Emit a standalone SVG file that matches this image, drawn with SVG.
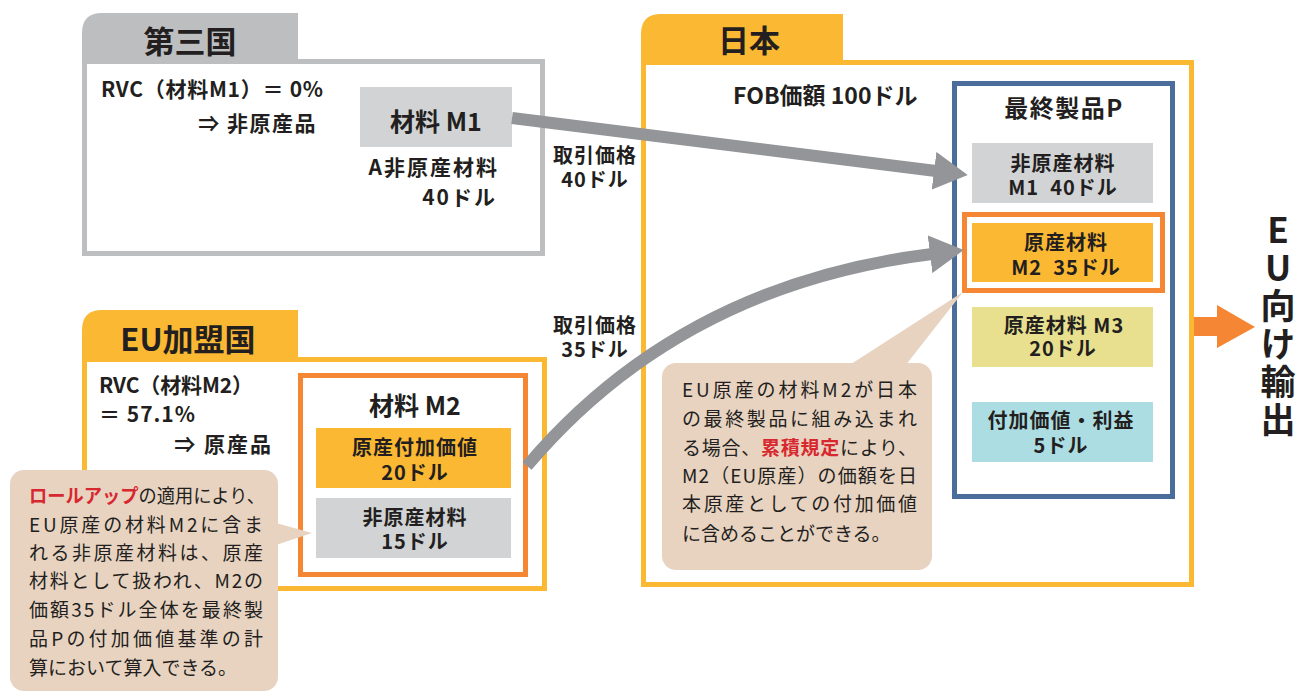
<svg xmlns="http://www.w3.org/2000/svg" width="1300" height="694" viewBox="0 0 1300 694">
<defs>
<style>
text{font-family:"Noto Sans CJK JP","Noto Sans",sans-serif;fill:#231f20}
.b{font-weight:bold}
.tab{font-size:31px;font-weight:bold}
.lbl{font-size:21px;font-weight:bold}
.box{font-size:20px;font-weight:bold;text-anchor:middle;letter-spacing:1px}
.note{font-size:19px}
.red{fill:#d7282f;font-weight:bold}
.mid{text-anchor:middle}
.gry{fill:#d1d3d4}
.org{fill:#fbb832}
.arrow{fill:none;stroke:#939598;stroke-width:12}
.call{fill:#e8d3c1}
.price{font-size:20px;font-weight:bold;text-anchor:middle;letter-spacing:1px}
.vert{writing-mode:vertical-rl;text-orientation:upright;font-size:35px;font-weight:bold;letter-spacing:3px}
</style>
<marker id="ah" markerUnits="userSpaceOnUse" markerWidth="34" markerHeight="38" viewBox="0 0 34 38" refX="2" refY="19" orient="auto"><path d="M0,0 L34,19 L0,38 z" fill="#939598"/></marker>
</defs>
<rect width="1300" height="694" fill="#ffffff"/>

<g id="third-country">
<path d="M82,60 V33 Q82,13 102,13 H298 V60 Z" fill="#bcbec0"/>
<rect x="84.5" y="61.5" width="458" height="192" fill="#ffffff" stroke="#bcbec0" stroke-width="5"/>
<text class="tab mid" x="190" y="53">第三国</text>
<text class="lbl" x="101" y="97" textLength="222">RVC（材料M1）＝ 0%</text>
<text class="lbl" x="317" y="131" text-anchor="end" letter-spacing="1.5">⇒ 非原産品</text>
</g>

<g id="m1">
<rect x="360" y="87" width="152" height="60" class="gry"/>
<text class="mid b" x="436" y="131" font-size="25">材料 M1</text>
<text class="lbl" text-anchor="end" font-size="22" letter-spacing="2"><tspan x="499" y="175">A非原産材料</tspan><tspan x="497" y="205">40ドル</tspan></text>
</g>

<g id="eu">
<path d="M82,358 V330 Q82,310 102,310 H298 V358 Z" fill="#fbb832"/>
<rect x="84.5" y="359.5" width="460" height="229" fill="#ffffff" stroke="#fbb832" stroke-width="5"/>
<text class="tab mid" x="188" y="351">EU加盟国</text>
<text class="lbl" x="99" y="393" textLength="154">RVC（材料M2）</text>
<text class="lbl" x="99" y="422" letter-spacing="1">＝ 57.1%</text>
<text class="lbl" x="273" y="452" text-anchor="end" letter-spacing="2">⇒ 原産品</text>
</g>

<g id="m2">
<rect x="300.5" y="375.5" width="225" height="199" fill="#ffffff" stroke="#f58634" stroke-width="5"/>
<text class="mid b" x="415" y="415" font-size="25">材料 M2</text>
<rect x="316" y="428" width="195" height="60" class="org"/>
<text class="box"><tspan x="415" y="455">原産付加価値</tspan><tspan x="415" y="480">20ドル</tspan></text>
<rect x="316" y="498" width="195" height="60" class="gry"/>
<text class="box"><tspan x="415" y="525">非原産材料</tspan><tspan x="415" y="549">15ドル</tspan></text>
</g>

<g id="japan">
<path d="M641,61 V34 Q641,14 661,14 H843 V61 Z" fill="#fbb832"/>
<rect x="643.5" y="62.5" width="548" height="522" fill="#ffffff" stroke="#fbb832" stroke-width="5"/>
<text class="tab mid" x="749" y="52">日本</text>
<text class="b" x="733" y="104" font-size="23">FOB価額 100ドル</text>
</g>

<g id="product-p">
<rect x="954.5" y="83.5" width="218" height="413" fill="#ffffff" stroke="#4a6d9c" stroke-width="5"/>
<text class="mid b" x="1064" y="117" font-size="24" letter-spacing="1.5">最終製品P</text>
</g>
<g id="p-m1">
<rect x="972" y="143" width="181" height="60" class="gry"/>
<text class="box" xml:space="preserve"><tspan x="1063" y="171">非原産材料</tspan><tspan x="1063" y="195">M1  40ドル</tspan></text>
</g>
<g id="p-m2">
<rect x="964.5" y="214.5" width="198" height="76" fill="#ffffff" stroke="#f58634" stroke-width="5"/>
<rect x="972" y="223" width="181" height="59" class="org"/>
<text class="box" xml:space="preserve"><tspan x="1066" y="250">原産材料</tspan><tspan x="1066" y="275">M2  35ドル</tspan></text>
</g>
<g id="p-m3">
<rect x="972" y="307" width="181" height="60" fill="#e8e08e"/>
<text class="box"><tspan x="1064" y="333">原産材料 M3</tspan><tspan x="1063" y="356">20ドル</tspan></text>
</g>
<g id="p-va">
<rect x="972" y="402" width="181" height="60" fill="#acdde3"/>
<text class="box"><tspan x="1061" y="428">付加価値・利益</tspan><tspan x="1061" y="453">5ドル</tspan></text>
</g>

<g id="export">
<polygon points="1194,317 1217,317 1217,305 1255,327 1217,348 1217,336 1194,336" fill="#f58634"/>
<text class="vert" x="1278" y="212">EU向け輸出</text>
</g>

<g id="connectors">
<path class="arrow" d="M512,118 L936,171" marker-end="url(#ah)"/>
<path class="arrow" d="M527,466 Q680,285 932,254" marker-end="url(#ah)"/>
<text class="price"><tspan x="595" y="163">取引価格</tspan><tspan x="595" y="187">40ドル</tspan></text>
<text class="price"><tspan x="595" y="333">取引価格</tspan><tspan x="595" y="357">35ドル</tspan></text>
</g>

<g id="note-rollup">
<rect x="10" y="470" width="268" height="221" rx="14" class="call"/>
<polygon points="276,523 312,533 276,545" class="call"/>
<text class="note" x="29" y="503" textLength="236" lengthAdjust="spacingAndGlyphs"><tspan class="red">ロールアップ</tspan>の適用により、</text>
<text class="note" x="29" y="532" textLength="234">EU原産の材料M2に含ま</text>
<text class="note" x="29" y="560" textLength="234">れる非原産材料は、原産</text>
<text class="note" x="29" y="588" textLength="234">材料として扱われ、M2の</text>
<text class="note" x="29" y="617" textLength="234">価額35ドル全体を最終製</text>
<text class="note" x="29" y="646" textLength="234">品Pの付加価値基準の計</text>
<text class="note" x="29" y="675">算において算入できる。</text>
</g>

<g id="note-cumulation">
<rect x="662" y="363" width="270" height="207" rx="14" class="call"/>
<polygon points="848,366 905,366 963,292" class="call"/>
<text class="note" x="682" y="397" textLength="235">EU原産の材料M2が日本</text>
<text class="note" x="682" y="426" textLength="235">の最終製品に組み込まれ</text>
<text class="note" x="682" y="455" textLength="235">る場合、<tspan class="red">累積規定</tspan>により、</text>
<text class="note" x="682" y="483" textLength="235">M2（EU原産）の価額を日</text>
<text class="note" x="682" y="511" textLength="235">本原産としての付加価値</text>
<text class="note" x="682" y="541">に含めることができる。</text>
</g>
</svg>
